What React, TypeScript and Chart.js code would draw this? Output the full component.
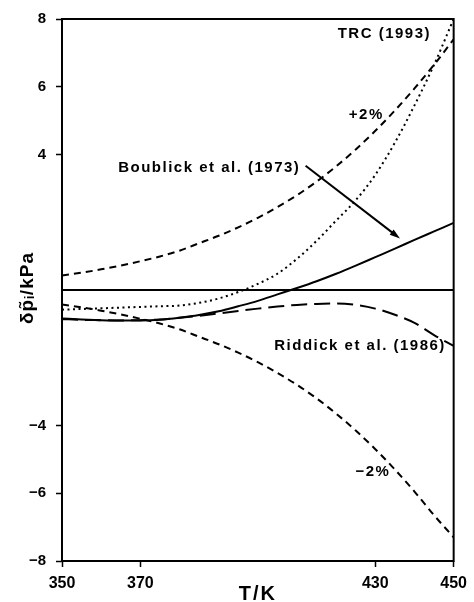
import React, { useEffect, useRef } from "react";
import { Chart, registerables } from "chart.js";

Chart.register(...registerables);

// Temperature grid (K)
const temperatures = [350, 355, 360, 365, 370, 375, 380, 385, 390, 395, 400, 405, 410, 415, 420, 425, 430, 435, 440, 445, 450];

// Deviations (kPa)
const plus2 = [0.43, 0.51, 0.61, 0.72, 0.85, 0.99, 1.16, 1.38, 1.6, 1.85, 2.13, 2.45, 2.8, 3.2, 3.65, 4.15, 4.7, 5.3, 5.95, 6.65, 7.4];
const minus2 = [-0.43, -0.51, -0.61, -0.72, -0.85, -0.99, -1.16, -1.38, -1.6, -1.85, -2.13, -2.45, -2.8, -3.2, -3.65, -4.15, -4.7, -5.3, -5.95, -6.65, -7.3];
const trc1993 = [-0.58, -0.56, -0.54, -0.52, -0.5, -0.48, -0.46, -0.38, -0.25, -0.06, 0.18, 0.48, 0.92, 1.45, 2.05, 2.65, 3.4, 4.35, 5.45, 6.65, 8.0];
const boublick1973 = [-0.84, -0.87, -0.89, -0.9, -0.9, -0.88, -0.82, -0.74, -0.63, -0.48, -0.32, -0.13, 0.06, 0.26, 0.48, 0.72, 0.97, 1.22, 1.48, 1.73, 1.98];
const riddick1986 = [-0.86, -0.88, -0.89, -0.9, -0.89, -0.87, -0.82, -0.76, -0.69, -0.62, -0.55, -0.49, -0.44, -0.41, -0.4, -0.44, -0.55, -0.73, -0.97, -1.33, -1.65];
const zeroT = [350, 450];
const zeroV = [0, 0];

// Tick labels
const xLabeled = [350, 370, 430, 450];
const yLabeled = [8, 6, 4, -4, -6, -8];

// Text annotations (data coords)
const notes = [
  { text: "TRC (1993)", x: 432.3, y: 7.57 },
  { text: "+2%", x: 427.7, y: 5.18 },
  { text: "Boublick et al. (1973)", x: 387.6, y: 3.61 },
  { text: "Riddick et al. (1986)", x: 426.1, y: -1.64 },
  { text: "\u22122%", x: 429.4, y: -5.38 },
];
const arrowFrom = { x: 412.2, y: 3.67 };
const arrowTo = { x: 436.3, y: 1.52 };

const FONT = '"Liberation Sans", Arial, sans-serif';
const fmt = (v: number) => (v < 0 ? "\u2212" + Math.abs(v) : String(v));

export default function App() {
  const ref = useRef<HTMLCanvasElement>(null);

  useEffect(() => {
    const canvas = ref.current!;
    const pts = (xs: number[], ys: number[]) => xs.map((t, i) => ({ x: t, y: ys[i] }));

    const overlay = {
      id: "overlay",
      afterDatasetsDraw(chart: any) {
        const { ctx, chartArea, scales } = chart;
        const { left, right, top, bottom } = chartArea;
        const x = scales.x;
        const y = scales.y;
        ctx.save();
        ctx.strokeStyle = "#000";
        ctx.lineWidth = 2;
        ctx.strokeRect(left, top, right - left, bottom - top);

        ctx.fillStyle = "#000";
        ctx.font = `bold 15px ${FONT}`;
        ctx.letterSpacing = "1.5px";
        ctx.textAlign = "center";
        ctx.textBaseline = "middle";
        for (const n of notes) {
          ctx.fillText(n.text, x.getPixelForValue(n.x), y.getPixelForValue(n.y));
        }

        // arrow
        const x1 = x.getPixelForValue(arrowFrom.x);
        const y1 = y.getPixelForValue(arrowFrom.y);
        const x2 = x.getPixelForValue(arrowTo.x);
        const y2 = y.getPixelForValue(arrowTo.y);
        const ang = Math.atan2(y2 - y1, x2 - x1);
        const hl = 11;
        ctx.lineWidth = 2;
        ctx.beginPath();
        ctx.moveTo(x1, y1);
        ctx.lineTo(x2 - Math.cos(ang) * hl * 0.8, y2 - Math.sin(ang) * hl * 0.8);
        ctx.stroke();
        ctx.beginPath();
        ctx.moveTo(x2, y2);
        ctx.lineTo(x2 - hl * Math.cos(ang - 0.3), y2 - hl * Math.sin(ang - 0.3));
        ctx.lineTo(x2 - hl * Math.cos(ang + 0.3), y2 - hl * Math.sin(ang + 0.3));
        ctx.closePath();
        ctx.fill();

        // axis titles
        ctx.font = `bold 20px ${FONT}`;
        ctx.letterSpacing = "2px";
        ctx.textAlign = "center";
        ctx.textBaseline = "alphabetic";
        ctx.fillText("T/K", (left + right) / 2, 600);

        ctx.save();
        ctx.translate(33, (top + bottom) / 2 - 2);
        ctx.rotate(-Math.PI / 2);
        ctx.font = `bold 19px ${FONT}`;
        ctx.letterSpacing = "1px";
        ctx.fillText("\u03b4p\u0303\u1d62/kPa", 0, 0);
        ctx.restore();

        ctx.restore();
      },
    };

    const common = { pointRadius: 0, borderColor: "#000", borderWidth: 2, fill: false, cubicInterpolationMode: "monotone" as const };

    const chart = new Chart(canvas, {
      type: "line",
      data: {
        datasets: [
          { label: "zero", data: pts(zeroT, zeroV), ...common },
          { label: "+2%", data: pts(temperatures, plus2), ...common, borderDash: [7, 5] },
          { label: "-2%", data: pts(temperatures, minus2), ...common, borderDash: [7, 5] },
          { label: "TRC (1993)", data: pts(temperatures, trc1993), ...common, borderWidth: 2, borderDash: [2, 3.5] },
          { label: "Boublick et al. (1973)", data: pts(temperatures, boublick1973), ...common },
          { label: "Riddick et al. (1986)", data: pts(temperatures, riddick1986), ...common, borderDash: [16, 7] },
        ],
      },
      options: {
        animation: false,
        responsive: false,
        devicePixelRatio: 1,
        layout: { padding: { top: 18, right: 18, left: 0, bottom: 0 } },
        plugins: { legend: { display: false }, tooltip: { enabled: false } },
        scales: {
          x: {
            type: "linear",
            min: 350,
            max: 450,
            border: { display: false },
            grid: {
              drawOnChartArea: false,
              drawTicks: true,
              tickLength: 6,
              tickWidth: 1.5,
              tickColor: (c: any) => (xLabeled.includes(c.tick?.value) ? "#000" : "rgba(0,0,0,0)"),
            },
            ticks: {
              stepSize: 20,
              autoSkip: false,
              maxRotation: 0,
              padding: 7,
              color: "#000",
              font: { family: FONT, size: 16, weight: "bold" },
              callback: (v: any) => (xLabeled.includes(Number(v)) ? String(v) : ""),
            },
            afterFit: (s: any) => {
              s.height = 41;
            },
          },
          y: {
            type: "linear",
            min: -8,
            max: 8,
            border: { display: false },
            grid: {
              drawOnChartArea: false,
              drawTicks: true,
              tickLength: 6,
              tickWidth: 1.5,
              tickColor: (c: any) => (yLabeled.includes(c.tick?.value) ? "#000" : "rgba(0,0,0,0)"),
            },
            ticks: {
              stepSize: 2,
              autoSkip: false,
              padding: 10,
              color: "#000",
              font: { family: FONT, size: 15, weight: "bold" },
              callback: (v: any) => (yLabeled.includes(Number(v)) ? fmt(Number(v)) : ""),
            },
            afterFit: (s: any) => {
              s.width = 62;
            },
          },
        },
      },
      plugins: [overlay],
    });

    return () => chart.destroy();
  }, []);

  return (
    <div style={{ position: "fixed", left: 0, top: 0, width: 474, height: 602, background: "#fff" }}>
      <canvas ref={ref} width={474} height={602} style={{ display: "block", width: 474, height: 602 }} />
    </div>
  );
}
